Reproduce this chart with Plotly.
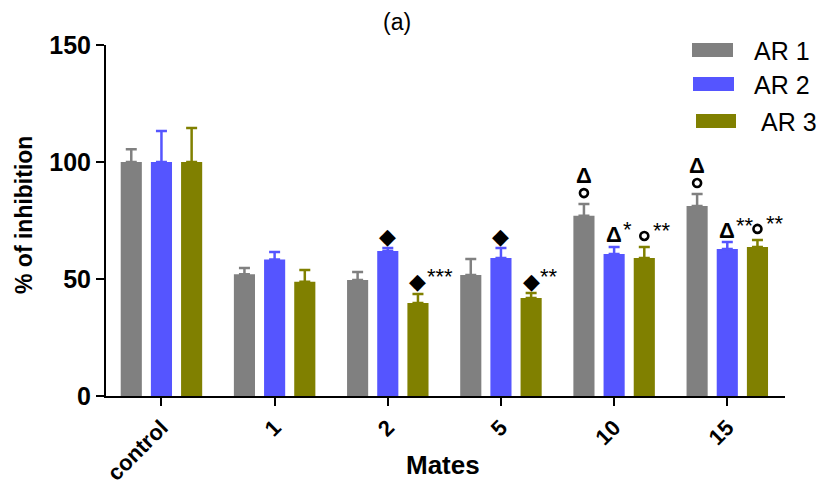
import plotly.graph_objects as go

categories = ["control", "1", "2", "5", "10", "15"]
series_names = ["AR 1", "AR 2", "AR 3"]
colors = ["#808080", "#5555FF", "#808000"]

ar1 = [100, 52.0, 49.6, 51.7, 77.0, 81.2]
ar2 = [100, 58.3, 62.0, 59.0, 60.7, 62.8]
ar3 = [100, 48.8, 39.7, 41.9, 59.0, 63.7]
ar1_err = [5.5, 2.7, 3.4, 6.8, 5.0, 5.1]
ar2_err = [13.3, 3.2, 1.2, 4.2, 3.0, 3.0]
ar3_err = [14.5, 5.0, 3.9, 2.1, 4.7, 3.0]

values = [ar1, ar2, ar3]
errors = [ar1_err, ar2_err, ar3_err]

# significance marks: (category index, series index, symbols bottom->top, stars)
marks = [
    (2, 1, ["◆"], ""),
    (2, 2, ["◆"], "***"),
    (3, 1, ["◆"], ""),
    (3, 2, ["◆"], "**"),
    (4, 0, ["o", "Δ"], ""),
    (4, 1, ["Δ"], "*"),
    (4, 2, ["o"], "**"),
    (5, 0, ["o", "Δ"], ""),
    (5, 1, ["Δ"], "**"),
    (5, 2, ["o"], "**"),
]

FONT = "Liberation Sans, Arial, sans-serif"

W, H = 818, 486
L, R, T, B = 106, 785, 45, 396
Y_MAX = 150
PX_PER_UNIT = (B - T) / Y_MAX


def px_x(px):
    return (px - L) / (R - L)


def px_y(py):
    return (B - py) / (B - T)


xidx = list(range(len(categories)))

fig = go.Figure()
for name, vals, errs, col in zip(series_names, values, errors, colors):
    fig.add_trace(go.Bar(
        name=name, x=xidx, y=vals,
        marker=dict(color=col, line=dict(width=0)),
        error_y=dict(type="data", array=errs, arrayminus=[0] * len(errs),
                     symmetric=False, color=col, thickness=2.5, width=5.5),
        showlegend=False,
    ))

bargap = 0.2
slot = (1 - bargap) / 3
annotations = []
circ_x, circ_y = [], []
for ci, si, syms, stars in marks:
    xpos = ci + (si - 1) * slot
    ytop = values[si][ci] + errors[si][ci]
    shift = 0
    for k, s in enumerate(syms):
        if s == "o":
            shift = 11
            circ_x.append(xpos)
            circ_y.append(ytop + shift / PX_PER_UNIT)
            continue
        if s == "◆":
            fnt = dict(family="DejaVu Sans", size=22, color="black")
            txt = s
            shift = 12
        else:
            fnt = dict(family=FONT, size=22, color="black")
            txt = "<b>%s</b>" % s
            shift = 12 if k == 0 else 29
        annotations.append(dict(x=xpos, y=ytop, xref="x", yref="y", text=txt,
                                showarrow=False, xanchor="center", yanchor="middle",
                                yshift=shift, font=fnt))
    if stars:
        annotations.append(dict(x=xpos, y=ytop, xref="x", yref="y", text=stars,
                                showarrow=False, xanchor="left", yanchor="middle",
                                xshift=7, yshift=shift + 5,
                                font=dict(family=FONT, size=22, color="black")))

fig.add_trace(go.Scatter(
    x=circ_x, y=circ_y, mode="markers", showlegend=False, hoverinfo="skip",
    marker=dict(symbol="circle-open", size=8, color="black", line=dict(width=2.6)),
))

# legend (drawn manually to match the wide swatches)
legend_rows = [(692, 733, 50, 752), (693, 734, 84, 752), (696, 736, 121, 759)]
shapes = []
for (x0, x1, yc, tx), name, col in zip(legend_rows, series_names, colors):
    shapes.append(dict(type="rect", xref="paper", yref="paper",
                       x0=px_x(x0), x1=px_x(x1), y0=px_y(yc + 7), y1=px_y(yc - 7),
                       fillcolor=col, line=dict(width=0)))
    annotations.append(dict(x=px_x(tx), y=px_y(yc + 1), xref="paper", yref="paper",
                            text=name, showarrow=False, xanchor="left", yanchor="middle",
                            font=dict(family=FONT, size=25, color="black")))

annotations.append(dict(x=px_x(443), y=px_y(465), xref="paper", yref="paper",
                        text="<b>Mates</b>", showarrow=False, xanchor="center",
                        yanchor="middle", font=dict(family=FONT, size=26, color="black")))
annotations.append(dict(x=px_x(24), y=px_y(215), xref="paper", yref="paper",
                        text="<b>% of inhibition</b>", showarrow=False, textangle=-90,
                        xanchor="center", yanchor="middle",
                        font=dict(family=FONT, size=23, color="black")))
annotations.append(dict(x=px_x(397), y=px_y(22), xref="paper", yref="paper",
                        text="(a)", showarrow=False, xanchor="center",
                        yanchor="middle", font=dict(family=FONT, size=23, color="black")))

fig.update_layout(
    width=W, height=H,
    margin=dict(l=L, r=W - R, t=T, b=H - B, pad=0),
    barmode="group", bargap=bargap, bargroupgap=0.3,
    plot_bgcolor="white", paper_bgcolor="white",
    annotations=annotations, shapes=shapes,
    font=dict(family=FONT, color="black"),
)
fig.update_xaxes(
    range=[-0.49, 5.51], automargin=False,
    tickvals=xidx, ticktext=categories,
    showline=True, linecolor="black", linewidth=2,
    ticks="outside", ticklen=8, tickwidth=2, tickcolor="black",
    tickangle=-45, tickfont=dict(family=FONT, size=22, color="black", weight="bold"),
    showgrid=False, zeroline=False,
)
fig.update_yaxes(
    range=[0, Y_MAX], tickvals=[0, 50, 100, 150], automargin=False,
    showline=True, linecolor="black", linewidth=2,
    ticks="outside", ticklen=8, tickwidth=2, tickcolor="black",
    tickfont=dict(family=FONT, size=25, color="black", weight="bold"),
    showgrid=False, zeroline=False,
)

fig.write_html("out.html")
